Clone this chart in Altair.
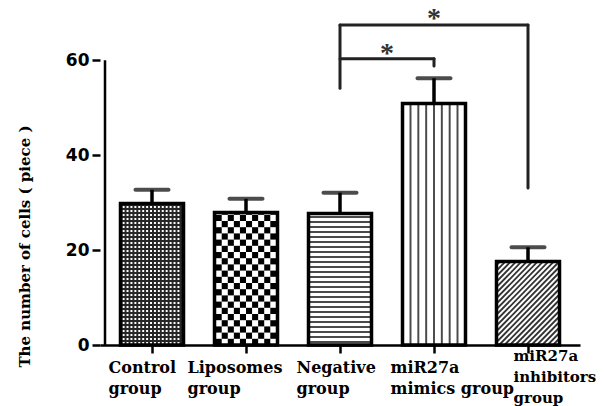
import json
import math
import numpy as np
import pandas as pd
import altair as alt

# ---------------- data ----------------
groups = ["Control group", "Liposomes group", "Negative group",
          "miR27a mimics group", "miR27a inhibitors group"]
label_lines = [["Control", "group"], ["Liposomes", "group"], ["Negative", "group"],
               ["miR27a", "mimics group"], ["miR27a", "inhibitors", "group"]]
means = [29.8, 27.9, 27.7, 50.9, 17.6]
sems = [2.9, 2.9, 4.4, 5.3, 3.0]
patterns = ["dots", "checker", "hlines", "vlines", "diag"]
y_ticks = [0, 20, 40, 60]

# significance brackets (group index / value units)
br_x = [2, 2, 4, 2, 3]
br_x2 = [2, 4, 4, 3, 3]
br_y = [54.1, 67.4, 67.4, 60.3, 60.3]
br_y2 = [67.4, 67.4, 33.1, 60.3, 58.8]
star_x = [2.5, 3.0]
star_y = [62.6, 70.0]
star_text = ["*", "*"]

# ---------------- geometry / style ----------------
W, H = 480, 337
X_MIN, X_MAX = -0.5, 4.5
Y_MAX = 71
PX_X = (X_MAX - X_MIN) / W
PX_Y = Y_MAX / H
BAR_PX = 63
INNER = 31

idx = list(range(len(groups)))
bars = pd.DataFrame({"idx": idx, "group": groups, "mean": means,
                     "top": [m + s for m, s in zip(means, sems)]})

# fill textures derived from each bar's value
rects = []
diag = []
for i, (m, p) in enumerate(zip(means, patterns)):
    x0 = i - INNER * PX_X
    x1 = i + INNER * PX_X
    hpx = m / PX_Y
    wpx = 2 * INNER
    if p == "dots":
        rects.append((x0, x1, 0, m, "#262626"))
        step, d = 4, 2
        for gx in np.arange(1, wpx - d + 0.01, step):
            for gy in np.arange(1, hpx - d, step):
                rects.append((x0 + gx * PX_X, x0 + (gx + d) * PX_X,
                              gy * PX_Y, (gy + d) * PX_Y, "white"))
    elif p == "checker":
        ncol = 10
        s = wpx / ncol
        nrow = int(math.ceil(hpx / s))
        for r in range(nrow):
            for c in range(ncol):
                if (r + c) % 2 == 0:
                    rects.append((x0 + c * s * PX_X, x0 + (c + 1) * s * PX_X,
                                  r * s * PX_Y, min((r + 1) * s, hpx) * PX_Y, "black"))
    elif p == "hlines":
        for gy in np.arange(2, hpx - 1, 5):
            rects.append((x0, x1, gy * PX_Y, (gy + 2) * PX_Y, "#4a4a4a"))
    elif p == "vlines":
        for o in np.arange(-24, 25, 8):
            rects.append((i + (o - 1) * PX_X, i + (o + 1) * PX_X, 0, m, "#4a4a4a"))
    elif p == "diag":
        for cc in np.arange(-wpx, hpx, 5.5):
            xs = max(0, -cc)
            xe = min(wpx, hpx - cc)
            if xe > xs:
                diag.append((x0 + xs * PX_X, (xs + cc) * PX_Y,
                             x0 + xe * PX_X, (xe + cc) * PX_Y))

rect_df = pd.DataFrame(rects, columns=["x", "x2", "y", "y2", "c"])
diag_df = pd.DataFrame(diag, columns=["x", "y", "x2", "y2"])
br_df = pd.DataFrame({"x": br_x, "x2": br_x2, "y": br_y, "y2": br_y2})
star_df = pd.DataFrame({"x": star_x, "y": star_y, "t": star_text})
axis_df = pd.DataFrame({"x": [X_MIN], "y": [y_ticks[0]], "y2": [y_ticks[-1]]})

xscale = alt.Scale(domain=[X_MIN, X_MAX], nice=False, zero=False)
yscale = alt.Scale(domain=[0, Y_MAX], nice=False, zero=False)

x_axis = alt.Axis(
    values=idx,
    labelExpr=f"{json.dumps(label_lines)}[datum.value]",
    labelAlign="left",
    labelOffset={"condition": [{"test": "datum.value == 1", "value": -59},
                               {"test": "datum.value == 4", "value": -15}],
                 "value": -44},
    labelPadding={"condition": {"test": "datum.value == 4", "value": -5}, "value": 6},
    labelFontSize={"condition": {"test": "datum.value == 4", "value": 15}, "value": 16},
    labelFlush=False, labelOverlap=False,
    labelFont="DejaVu Serif", labelFontWeight="bold",
    labelColor="black", labelLineHeight=21, labelBaseline="top",
    tickSize=8, tickWidth=2.5, tickColor="black",
    domainWidth=2.5, domainColor="black", grid=False, title=None,
)
y_axis = alt.Axis(
    values=y_ticks, domain=False, grid=False,
    tickSize=8, tickWidth=2.5, tickColor="black",
    labelFont="DejaVu Sans", labelFontWeight="bold", labelFontSize=17,
    labelColor="black", labelPadding=3,
    title="The number of cells ( piece )",
    titleFont="DejaVu Serif", titleFontWeight="bold", titleFontSize=15,
    titleColor="black", titleAngle=270, titleX=-76, titleY=238,
    titleAlign="center", titleBaseline="middle",
)


def X(f):
    return alt.X(f, type="quantitative", scale=xscale, axis=x_axis)


def Y(f):
    return alt.Y(f, type="quantitative", scale=yscale, axis=y_axis)


tex = alt.Chart(rect_df).mark_rect().encode(
    x=X("x"), x2="x2", y=Y("y"), y2="y2", color=alt.Color("c:N", scale=None))

diag_l = alt.Chart(diag_df).mark_rule(strokeWidth=1.8, color="#333333").encode(
    x=X("x"), x2="x2", y=Y("y"), y2="y2")

outline = alt.Chart(bars).mark_bar(
    width=BAR_PX, orient="vertical", fillOpacity=0, stroke="black", strokeWidth=3.5
).encode(x=X("idx"), y=Y("mean"))

err = alt.Chart(bars).mark_rule(strokeWidth=3.5, color="black").encode(
    x=X("idx"), y=Y("mean"), y2="top")

caps = alt.Chart(bars).mark_tick(
    orient="horizontal", size=37, thickness=4, color="black", cornerRadius=2
).encode(x=X("idx"), y=Y("top"))

brk = alt.Chart(br_df).mark_rule(strokeWidth=3, color="#222222", strokeCap="round").encode(
    x=X("x"), x2="x2", y=Y("y"), y2="y2")

stars = alt.Chart(star_df).mark_text(
    font="Liberation Serif", fontSize=28, fontWeight="bold", color="#333333",
    baseline="middle", dy=6
).encode(x=X("x"), y=Y("y"), text="t:N")

yline = alt.Chart(axis_df).mark_rule(strokeWidth=2.5, color="black").encode(
    x=X("x"), y=Y("y"), y2="y2")

chart = alt.layer(tex, diag_l, outline, err, caps, brk, stars, yline).properties(
    width=W, height=H,
    autosize=alt.AutoSizeParams(type="none"),
    padding={"left": 92, "top": 0, "right": 16, "bottom": 61},
    background="white",
).configure_view(stroke=None)

chart.save("out.html", embed_options={"renderer": "svg", "actions": False})
